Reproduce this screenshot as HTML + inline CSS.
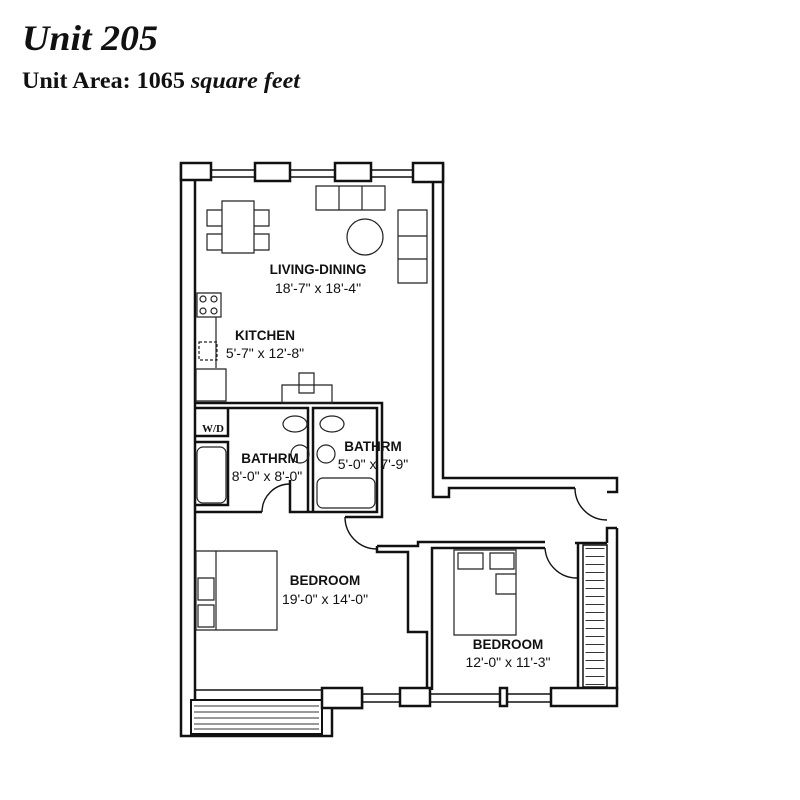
<!DOCTYPE html>
<html><head><meta charset="utf-8"><style>
html,body{margin:0;padding:0;background:#fff;width:800px;height:800px;overflow:hidden}
svg{display:block}
.t{font-family:"Liberation Sans",sans-serif;font-size:14px;fill:#111;text-anchor:middle}
.b{font-weight:bold;font-size:13.5px}
.h{font-family:"Liberation Serif",serif;font-weight:bold;fill:#111}
</style></head><body>
<svg width="800" height="800" viewBox="0 0 800 800" xmlns="http://www.w3.org/2000/svg">
<text class="h" x="22" y="50" font-size="36" font-style="italic" textLength="136" lengthAdjust="spacingAndGlyphs">Unit 205</text>
<text class="h" x="22" y="88" font-size="23" textLength="278" lengthAdjust="spacingAndGlyphs">Unit Area: 1065 <tspan font-style="italic">square feet</tspan></text>
<path fill="none" stroke="#111" stroke-width="2.5" d="M181 163V736H332V708H362V690 M195 180V700 M443 163V478H617V492H607 M433 182V497H449V488H575 M617 528V690 M607 543V528H617 M195 403H382V517H345 M195 408H308V512 M313 512V408H377V512H290V480 M195 512H262 M195 436H228V408 M195 442H228V505H195 M377 546V552H408V632H427V690 M377 546H418V542H545 M432 690V548H545 M575 543H607 M578 543V688"/>
<path fill="none" stroke="#111" stroke-width="1.4" d="M211 170H415M211 177H415M362 694H400M362 702H400M430 694H550M430 702H550M196 690H322 M262 512A28 28 0 0 1 290 484 M345 517A32 32 0 0 0 377 549 M575 488A32 32 0 0 0 607 520 M545 548A32 32 0 0 0 577 578"/>
<rect x="191" y="700" width="131" height="34" fill="none" stroke="#111" stroke-width="2"/>
<rect x="583" y="545" width="24" height="142" fill="none" stroke="#111" stroke-width="1.5"/>
<path fill="#fff" stroke="#111" stroke-width="2.5" d="M181 163h30v17h-30z M255 163h35v18h-35z M335 163h36v18h-36z M413 163h30v19h-30z M400 688h30v18h-30z M500 688h7v18h-7z M551 688h66v18h-66z M322 688h40v20h-40z"/>
<path stroke="#333" stroke-width="1" d="M194 706H319M194 712H319M194 718H319M194 724H319M194 729H319"/>
<path stroke="#333" stroke-width="1" stroke-dasharray="1 7" d="M595 548V686" stroke-linecap="butt" transform="" style="stroke-width:19px"/>
<path fill="none" stroke="#222" stroke-width="1.2" d="M222 201h32v52h-32z M207 210h15v16h-15z M207 234h15v16h-15z M254 210h15v16h-15z M254 234h15v16h-15z M316 186h69v24h-69z M339 186v24 M362 186v24 M398 210h29v73h-29z M398 236h29 M398 259h29 M197 293h24v24h-24z M216 317v51 M196 369h30v32h-30z M282 385h50v18h-50z M299 373h15v20h-15z M196 551h81v79h-81z M216 551v79 M198 578h16v22h-16z M198 605h16v22h-16z M454 550h62v85h-62z M458 553h25v16h-25z M490 553h24v16h-24z M496 574h20v20h-20z"/>
<g fill="none" stroke="#222" stroke-width="1.2">
<circle cx="365" cy="237" r="18"/>
<circle cx="203" cy="299" r="3"/><circle cx="214" cy="299" r="3"/>
<circle cx="203" cy="311" r="3"/><circle cx="214" cy="311" r="3"/>
<rect x="199" y="342" width="18" height="18" stroke-dasharray="3 2"/>
<ellipse cx="295" cy="424" rx="12" ry="8"/><ellipse cx="332" cy="424" rx="12" ry="8"/>
<circle cx="300" cy="454" r="9"/><circle cx="326" cy="454" r="9"/>
<rect x="197" y="447" width="29" height="56" rx="6"/>
<rect x="317" y="478" width="58" height="30" rx="6"/>
</g>
<text x="202" y="432" font-family="Liberation Serif,serif" font-weight="bold" font-size="11" fill="#111">W/D</text>
<text class="t b" x="318" y="274">LIVING-DINING</text>
<text class="t" x="318" y="293">18'-7" x 18'-4"</text>
<text class="t b" x="265" y="340">KITCHEN</text>
<text class="t" x="265" y="358">5'-7" x 12'-8"</text>
<text class="t b" x="270" y="463">BATHRM</text>
<text class="t" x="267" y="481">8'-0" x 8'-0"</text>
<text class="t b" x="373" y="451">BATHRM</text>
<text class="t" x="373" y="469">5'-0" x 7'-9"</text>
<text class="t b" x="325" y="585">BEDROOM</text>
<text class="t" x="325" y="604">19'-0" x 14'-0"</text>
<text class="t b" x="508" y="649">BEDROOM</text>
<text class="t" x="508" y="667">12'-0" x 11'-3"</text>
</svg>
</body></html>
